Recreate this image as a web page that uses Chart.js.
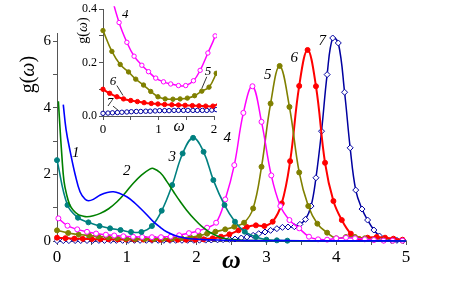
<!DOCTYPE html>
<html>
<head>
<meta charset="utf-8">
<script src="https://cdn.jsdelivr.net/npm/chart.js@4.4.0/dist/chart.umd.min.js"></script>
<style>
  html, body { margin: 0; padding: 0; background: #fff; }
  #wrap { position: relative; width: 457px; height: 290px; }
  #wrap canvas { position: absolute; left: 0; top: 0; }
</style>
</head>
<body>
<div id="wrap">
  <canvas id="main" width="457" height="290"></canvas>
  <canvas id="inset" width="457" height="290"></canvas>
</div>
<script>
// curve 1 (blue, no markers)
const s1x = [0.09,0.13,0.19,0.26,0.33,0.40,0.45,0.52,0.62,0.72,0.81,0.90,1.00,1.10,1.19,1.29,1.38,1.48,1.57,1.70,1.81,1.95,2.10,2.30,2.50,2.80,3.20,3.80,4.40,5.00];
const s1y = [4.10,3.35,2.68,2.00,1.48,1.26,1.21,1.25,1.38,1.46,1.48,1.43,1.33,1.17,0.99,0.78,0.58,0.41,0.28,0.16,0.10,0.06,0.04,0.03,0.02,0.01,0.01,0.005,0.003,0.002];
// curve 2 (green, no markers)
const s2x = [0.02,0.04,0.07,0.10,0.14,0.18,0.23,0.30,0.37,0.43,0.52,0.62,0.74,0.86,0.98,1.09,1.21,1.33,1.38,1.48,1.57,1.67,1.76,1.86,1.98,2.07,2.17,2.27,2.37,2.48,2.65,2.90,3.50,4.20,5.00];
const s2y = [4.20,3.50,2.55,1.80,1.38,1.10,0.93,0.80,0.75,0.73,0.76,0.83,0.97,1.18,1.45,1.73,1.98,2.16,2.18,2.05,1.80,1.48,1.20,0.92,0.63,0.45,0.29,0.17,0.09,0.05,0.02,0.01,0.005,0.003,0.002];
// curve 3 (teal, filled circles)
const s3x = [0.00,0.15,0.30,0.45,0.61,0.76,0.91,1.06,1.21,1.36,1.50,1.65,1.80,1.95,2.10,2.24,2.40,2.55,2.69,2.85,3.00,3.15,3.30];
const s3y = [2.43,1.08,0.70,0.56,0.45,0.38,0.33,0.27,0.27,0.45,0.91,1.68,2.63,3.10,2.68,1.83,1.08,0.58,0.28,0.12,0.04,0.02,0.01];
// curve 4 (magenta, open circles)
const s4x = [0.02,0.15,0.29,0.43,0.56,0.70,0.82,0.95,1.09,1.22,1.36,1.49,1.63,1.75,1.89,2.02,2.15,2.28,2.41,2.54,2.67,2.80,2.93,3.07,3.20,3.33,3.47,3.61,3.74,3.87,4.00,4.14,4.27,4.41,4.54,4.68,4.81,4.95];
const s4y = [0.68,0.46,0.35,0.276,0.224,0.19,0.166,0.142,0.128,0.12,0.114,0.114,0.132,0.171,0.236,0.30,0.40,0.55,1.25,2.28,3.85,4.65,3.58,1.97,1.05,0.63,0.38,0.13,0.05,0.04,0.08,0.10,0.08,0.05,0.03,0.01,0.01,0.01];
// curve 5 (olive, filled circles)
const s5x = [0.00,0.16,0.31,0.46,0.59,0.73,0.86,0.99,1.12,1.26,1.39,1.52,1.65,1.78,1.91,2.04,2.15,2.27,2.41,2.54,2.68,2.81,2.93,3.06,3.19,3.33,3.47,3.60,3.73,3.87,4.00,4.14,4.27,4.41,4.54,4.68,4.81,4.95];
const s5y = [0.32,0.242,0.193,0.165,0.138,0.116,0.092,0.072,0.064,0.063,0.064,0.067,0.076,0.093,0.108,0.16,0.22,0.28,0.35,0.43,0.55,0.98,2.23,4.13,5.26,4.03,2.06,1.05,0.52,0.25,0.08,0.12,0.12,0.08,0.04,0.02,0.01,0.01];
// curve 6 (red, filled circles)
const s6x = [0.00,0.12,0.25,0.37,0.50,0.62,0.74,0.87,0.99,1.11,1.24,1.36,1.48,1.61,1.73,1.85,1.98,2.10,2.23,2.35,2.47,2.60,2.72,2.85,2.97,3.09,3.22,3.34,3.47,3.59,3.71,3.84,3.96,4.08,4.21,4.33,4.45,4.58,4.70,4.82,4.95];
const s6y = [0.100,0.085,0.072,0.064,0.058,0.054,0.050,0.047,0.045,0.043,0.042,0.041,0.040,0.039,0.038,0.037,0.037,0.05,0.08,0.13,0.20,0.32,0.42,0.47,0.45,0.58,1.13,2.40,4.66,5.74,4.65,2.35,1.20,0.63,0.22,0.06,0.10,0.12,0.10,0.07,0.04];
// curve 7 (navy, open diamonds)
const s7x = [0.00,0.09,0.17,0.26,0.34,0.43,0.51,0.60,0.68,0.77,0.85,0.94,1.02,1.11,1.19,1.28,1.36,1.45,1.53,1.62,1.70,1.79,1.87,1.96,2.04,2.13,2.21,2.30,2.38,2.47,2.55,2.64,2.72,2.81,2.89,2.98,3.06,3.15,3.23,3.31,3.40,3.48,3.56,3.64,3.71,3.79,3.87,3.95,4.03,4.12,4.20,4.28,4.37,4.45,4.54,4.62,4.70,4.79,4.87,4.96];
const s7y = [0.010,0.011,0.012,0.013,0.014,0.015,0.016,0.017,0.017,0.018,0.018,0.019,0.020,0.020,0.020,0.021,0.021,0.021,0.021,0.021,0.021,0.021,0.021,0.022,0.024,0.026,0.030,0.035,0.040,0.050,0.060,0.090,0.120,0.170,0.220,0.270,0.320,0.370,0.410,0.420,0.430,0.500,0.650,1.050,1.900,3.300,5.000,6.100,5.950,4.470,2.800,1.530,0.960,0.630,0.330,0.150,0.040,0.020,0.020,0.010];

// axis ticks
const mainXTicks = [0, 1, 2, 3, 4, 5];
const mainYTicks = [0, 2, 4, 6];
const insetXTicks = [0, 1, 2];
const insetYTicks = [0, 0.2, 0.4];

// curve number labels [text, x, y] in data units
const mainLabels = [['1',0.27,2.64],['2',1.0,2.1],['3',1.65,2.52],['4',2.44,3.09],['5',3.02,5.0],['6',3.4,5.5],['7',3.8,6.0]];
const insetLabels = [['4',0.40,0.38],['5',1.89,0.165],['6',0.18,0.128],['7',0.126,0.051]];
const insetLeaders = [[1.87,0.147,1.78,0.103],[0.25,0.114,0.36,0.077],[0.18,0.037,0.27,0.022]];

function pts(xs, ys) { return xs.map((x, i) => ({ x: x, y: ys[i] })); }

const SERIF = '"Liberation Serif", "Times New Roman", serif';
Chart.defaults.font.family = SERIF;

function makeSets(inset) {
  const r = inset ? 2.2 : 2.5;
  const sets = [
    { data: pts(s1x, s1y), borderColor: '#0000ff', borderWidth: 1.6, pointRadius: 0 },
    { data: pts(s2x, s2y), borderColor: '#008000', borderWidth: 1.6, pointRadius: 0 },
    { data: pts(s3x, s3y), borderColor: '#008080', borderWidth: 1.6, pointRadius: r,
      pointBackgroundColor: '#008080', pointBorderColor: '#008080', pointBorderWidth: 1 },
    { data: pts(s4x, s4y), borderColor: '#ff00ff', borderWidth: 1.5, pointRadius: r,
      pointBackgroundColor: '#ffffff', pointBorderColor: '#ff00ff', pointBorderWidth: 1 },
    { data: pts(s5x, s5y), borderColor: '#808000', borderWidth: 1.6, pointRadius: r,
      pointBackgroundColor: '#808000', pointBorderColor: '#808000', pointBorderWidth: 1 },
    { data: pts(s6x, s6y), borderColor: '#ff0000', borderWidth: 2, pointRadius: r,
      pointBackgroundColor: '#ff0000', pointBorderColor: '#ff0000', pointBorderWidth: 1 },
    { data: pts(s7x, s7y), borderColor: '#0000a0', borderWidth: 1.5,
      pointStyle: inset ? 'circle' : 'rectRot', pointRadius: inset ? 2.2 : 3,
      pointBackgroundColor: '#ffffff', pointBorderColor: '#0000a0', pointBorderWidth: 1 }
  ].map(d => Object.assign({ tension: 0.4, fill: false, clip: 3 }, d));
  // the inset only shows curves 4-7
  return inset ? sets.slice(3) : sets;
}

function axis(min, max, step, labels, fontSize, fmt, fitSize, isX) {
  return {
    type: 'linear', min: min, max: max,
    border: { display: true, color: '#555', width: 1 },
    grid: { drawOnChartArea: false, drawTicks: true, tickLength: 4, color: '#555' },
    ticks: {
      stepSize: step, includeBounds: false, autoSkip: false, maxRotation: 0,
      padding: 2, color: '#000', font: { family: SERIF, size: fontSize },
      callback: v => labels.some(t => Math.abs(t - v) < 1e-6) ? fmt(v) : ''
    },
    afterFit: s => { if (isX) s.height = fitSize; else s.width = fitSize; }
  };
}

const textPlugin = {
  id: 'texts',
  afterDraw(chart) {
    const c = chart.ctx, xs = chart.scales.x, ys = chart.scales.y;
    const o = chart.options.plugins.texts;
    c.save();
    c.fillStyle = '#000';
    c.textAlign = 'center';
    c.textBaseline = 'middle';
    c.font = 'italic ' + o.numSize + 'px ' + SERIF;
    o.labels.forEach(l => c.fillText(l[0], xs.getPixelForValue(l[1]), ys.getPixelForValue(l[2])));
    c.strokeStyle = '#000'; c.lineWidth = 0.8;
    (o.leaders || []).forEach(l => {
      c.beginPath();
      c.moveTo(xs.getPixelForValue(l[0]), ys.getPixelForValue(l[1]));
      c.lineTo(xs.getPixelForValue(l[2]), ys.getPixelForValue(l[3]));
      c.stroke();
    });
    // x title
    c.font = o.xTitleFont + ' ' + SERIF;
    c.fillText('\u03c9', xs.getPixelForValue(o.xTitle[0]), o.xTitle[1]);
    // y title g(ω), rotated
    c.translate(o.yTitle[0], ys.getPixelForValue(o.yTitle[1]));
    c.rotate(-Math.PI / 2);
    const up = o.yTitleSize + 'px ' + SERIF, it = 'italic ' + o.yTitleSize + 'px ' + SERIF;
    c.font = up; const w1 = c.measureText('g(').width, w3 = c.measureText(')').width;
    c.font = it; const w2 = c.measureText('\u03c9').width;
    let x0 = -(w1 + w2 + w3) / 2;
    c.textAlign = 'left';
    c.font = up; c.fillText('g(', x0, 0);
    c.font = it; c.fillText('\u03c9', x0 + w1, 0);
    c.font = up; c.fillText(')', x0 + w1 + w2, 0);
    c.restore();
  }
};

new Chart(document.getElementById('main'), {
  type: 'line',
  data: { datasets: makeSets(false) },
  options: {
    responsive: false, animation: false, devicePixelRatio: 1,
    layout: { padding: { left: 0, right: 51, top: 33, bottom: 0 } },
    plugins: {
      legend: { display: false }, tooltip: { enabled: false },
      texts: { labels: mainLabels, numSize: 15, xTitle: [2.5, 261], xTitleFont: 'bold italic 26px',
               yTitle: [29, 5.0], yTitleSize: 20 }
    },
    scales: {
      x: axis(0, 5, 0.5, mainXTicks, 17, v => String(v), 49, true),
      y: axis(0, 6.25, 1, mainYTicks, 15, v => String(v), 57, false)
    }
  },
  plugins: [textPlugin]
});

new Chart(document.getElementById('inset'), {
  type: 'line',
  data: { datasets: makeSets(true) },
  options: {
    responsive: false, animation: false, devicePixelRatio: 1,
    layout: { padding: { left: 73, right: 243, top: 7, bottom: 154 } },
    plugins: {
      legend: { display: false }, tooltip: { enabled: false },
      texts: { labels: insetLabels, leaders: insetLeaders, numSize: 13, xTitle: [1.37, 127],
               xTitleFont: 'italic 16px', yTitle: [83, 0.32], yTitleSize: 14 }
    },
    scales: {
      x: axis(0, 2, 0.5, insetXTicks, 13, v => String(v), 20, true),
      y: axis(0, 0.4, 0.1, insetYTicks, 12, v => v.toFixed(1), 30, false)
    }
  },
  plugins: [textPlugin]
});
</script>
</body>
</html>
